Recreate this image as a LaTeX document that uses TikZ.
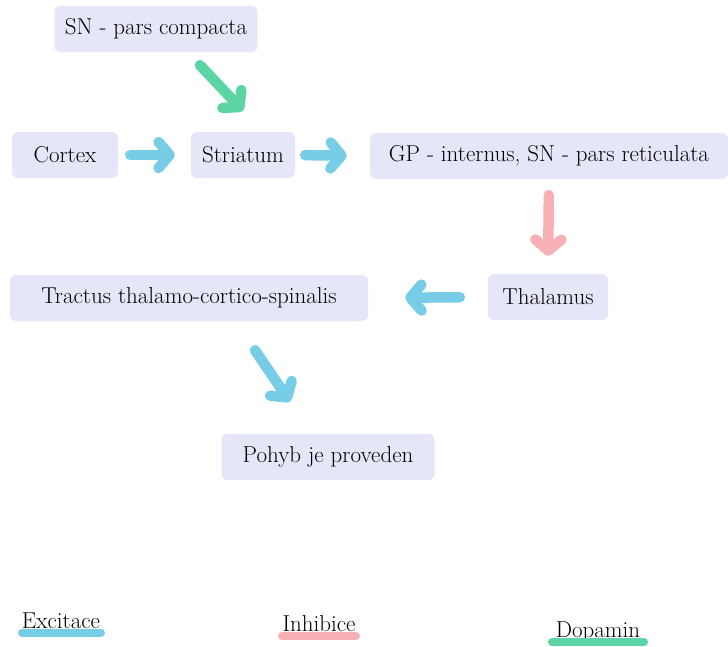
\documentclass[tikz,border=0pt]{standalone}
\usetikzlibrary{arrows.meta}

\definecolor{boxfill}{HTML}{E5E7F9}
\definecolor{excblue}{HTML}{78CDE6}
\definecolor{inhpink}{HTML}{F7B1B4}
\definecolor{dopgreen}{HTML}{5DD4A4}

\begin{document}
\begin{tikzpicture}[x=1pt, y=-1pt,
		box/.style={fill=boxfill, rounded corners=6pt, minimum height=46pt, inner sep=0pt,
			font=\fontsize{23}{27}\selectfont},
		flow/.style={line width=10.5pt, line cap=round,
			-{Straight Barb[length=11pt, width=26pt, round]}},
		exc/.style={flow, excblue},
		inh/.style={flow, inhpink},
		dop/.style={flow, dopgreen},
		legend/.style={font=\fontsize{23}{27}\selectfont, inner sep=0pt, anchor=base},
		legbar/.style={line width=8pt, line cap=round}]
		\useasboundingbox (0,0) rectangle (728,646);

		% boxes
		\node[box, minimum width=203pt] (sncomp) at (156,29) {SN - pars compacta};
		\node[box, minimum width=106pt] (cortex) at (65,155) {Cortex};
		\node[box, minimum width=104pt] (striatum) at (243,155) {Striatum};
		\node[box, minimum width=358pt] (gpi) at (549,156) {GP - internus, SN - pars reticulata};
		\node[box, minimum width=120pt] (thalamus) at (548,297) {Thalamus};
		\node[box, minimum width=358pt] (tractus) at (189,298) {Tractus thalamo-cortico-spinalis};
		\node[box, minimum width=213pt] (pohyb) at (328,457) {Pohyb je proveden};

		% arrows
		\draw[dop] ([xshift=44pt, yshift=-13pt]sncomp.south) -- ([yshift=21pt]striatum.north);
		\draw[exc, shorten <=12pt, shorten >=16pt] (cortex) -- (striatum);
		\draw[exc, shorten <=10pt, shorten >=23pt] (striatum.east) -- (gpi.west);
		\draw[inh, shorten <=16pt, shorten >=18pt] (gpi.south) -- (thalamus.north);
		\draw[exc, shorten <=28pt, shorten >=37pt] (thalamus.west) -- (tractus.east);
		\draw[exc] ([xshift=66pt, yshift=-29pt]tractus.south) -- ([xshift=-38pt, yshift=32pt]pohyb.north);

		% legend
		\node[legend] (exclab) at (61,628) {Excitace};
		\node[legend] (inhlab) at (319,631) {Inhibice};
		\node[legend] (doplab) at (598,637) {Dopamin};
		\draw[legbar, excblue] (22,633) -- (101,633);
		\draw[legbar, inhpink] (282,636) -- (356,636);
		\draw[legbar, dopgreen] (552,642) -- (644,642);
	\end{tikzpicture}
\end{document}
